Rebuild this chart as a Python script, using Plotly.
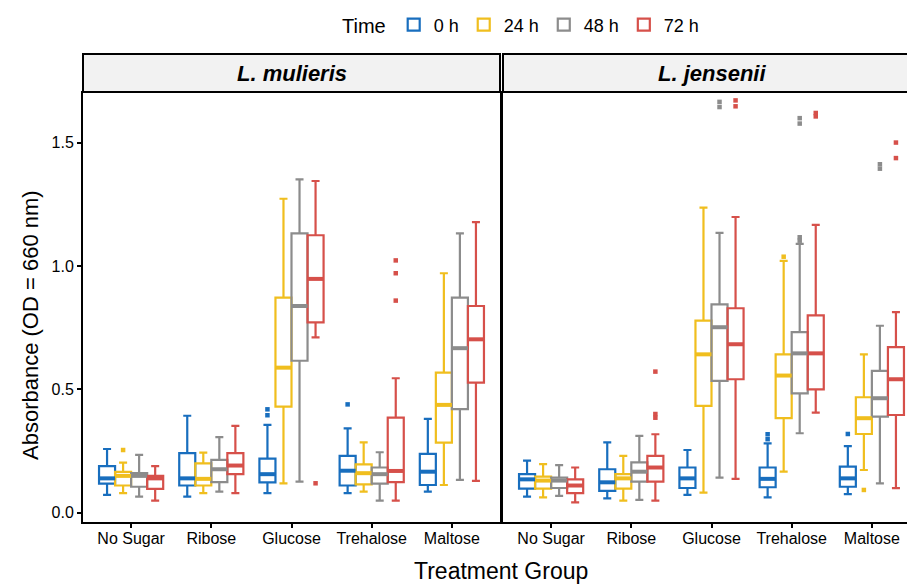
import plotly.graph_objects as go

# ---------------- data ----------------
categories = ["No Sugar", "Ribose", "Glucose", "Trehalose", "Maltose"]
times = ["0 h", "24 h", "48 h", "72 h"]
panels = ["L. mulieris", "L. jensenii"]

# L. mulieris : one row per time (0, 24, 48, 72 h), one value per category
mul_lo = [[0.072, 0.065, 0.079, 0.079, 0.085],
          [0.079, 0.079, 0.119, 0.085, 0.112],
          [0.065, 0.085, 0.126, 0.049, 0.133],
          [0.049, 0.079, 0.711, 0.049, 0.129]]
mul_q1 = [[0.118, 0.110, 0.123, 0.110, 0.112],
          [0.110, 0.110, 0.430, 0.115, 0.284],
          [0.105, 0.124, 0.616, 0.118, 0.420],
          [0.096, 0.156, 0.772, 0.124, 0.527]]
mul_med = [[0.139, 0.139, 0.156, 0.170, 0.166],
           [0.149, 0.137, 0.588, 0.160, 0.437],
           [0.149, 0.176, 0.838, 0.156, 0.667],
           [0.139, 0.191, 0.948, 0.169, 0.703]]
mul_q3 = [[0.189, 0.241, 0.219, 0.230, 0.238],
          [0.165, 0.200, 0.872, 0.196, 0.568],
          [0.160, 0.214, 1.133, 0.183, 0.872],
          [0.149, 0.241, 1.125, 0.385, 0.838]]
mul_hi = [[0.258, 0.393, 0.356, 0.342, 0.380],
          [0.203, 0.243, 1.273, 0.285, 0.971],
          [0.234, 0.306, 1.352, 0.245, 1.133],
          [0.189, 0.352, 1.345, 0.545, 1.178]]
mul_out_cat = ["No Sugar", "Glucose", "Glucose", "Glucose", "Trehalose",
               "Trehalose", "Trehalose", "Trehalose"]
mul_out_time = ["24 h", "0 h", "0 h", "72 h", "0 h", "72 h", "72 h", "72 h"]
mul_out_val = [0.254, 0.419, 0.395, 0.119, 0.439, 1.023, 0.971, 0.860]

# L. jensenii
jen_lo = [[0.065, 0.058, 0.072, 0.062, 0.075],
          [0.062, 0.049, 0.081, 0.166, 0.173],
          [0.068, 0.052, 0.142, 0.322, 0.119],
          [0.042, 0.049, 0.137, 0.406, 0.099]]
jen_q1 = [[0.097, 0.088, 0.100, 0.103, 0.105],
          [0.097, 0.097, 0.433, 0.383, 0.319],
          [0.100, 0.126, 0.534, 0.484, 0.389],
          [0.079, 0.126, 0.541, 0.500, 0.396]]
jen_med = [[0.135, 0.123, 0.139, 0.137, 0.139],
           [0.130, 0.139, 0.642, 0.556, 0.383],
           [0.130, 0.166, 0.752, 0.646, 0.464],
           [0.110, 0.183, 0.683, 0.646, 0.541]]
jen_q3 = [[0.156, 0.176, 0.183, 0.183, 0.187],
          [0.146, 0.156, 0.779, 0.642, 0.468],
          [0.142, 0.204, 0.845, 0.732, 0.575],
          [0.135, 0.230, 0.829, 0.800, 0.671]]
jen_hi = [[0.211, 0.285, 0.254, 0.281, 0.270],
          [0.197, 0.230, 1.237, 1.021, 0.642],
          [0.193, 0.311, 1.135, 1.090, 0.758],
          [0.183, 0.318, 1.199, 1.167, 0.813]]
jen_out_cat = ["Ribose", "Ribose", "Ribose",
               "Glucose", "Glucose", "Glucose", "Glucose",
               "Trehalose", "Trehalose", "Trehalose", "Trehalose", "Trehalose",
               "Trehalose", "Trehalose", "Trehalose", "Trehalose",
               "Maltose", "Maltose", "Maltose", "Maltose", "Maltose", "Maltose"]
jen_out_time = ["72 h", "72 h", "72 h",
                "48 h", "48 h", "72 h", "72 h",
                "0 h", "0 h", "24 h", "48 h", "48 h", "48 h", "48 h", "72 h", "72 h",
                "0 h", "24 h", "48 h", "48 h", "72 h", "72 h"]
jen_out_val = [0.572, 0.400, 0.385,
               1.666, 1.645, 1.672, 1.648,
               0.318, 0.298, 1.038, 1.117, 1.103, 1.600, 1.578, 1.621, 1.607,
               0.319, 0.092, 1.413, 1.395, 1.501, 1.438]

# ---------------- style ----------------
colors = ["#186EBE", "#F0BE1E", "#8C8C8C", "#D6504A"]
dodge = [-0.3, -0.1, 0.1, 0.3]
box_w = 0.2
FONT = "Liberation Sans, Arial, sans-serif"

W, H = 907, 584
P_LEFT, P_TOP, P_BOTTOM = 83, 93, 522            # panel edges in page pixels
ML, MR, MT, MB = P_LEFT, 0, P_TOP, H - P_BOTTOM
PW, PH = W - ML - MR, H - MT - MB


def px_x(px):
    return (px - ML) / PW


def px_y(py):
    return (H - MB - py) / PH


px_per_unit = (500 - 83) / 5.2
left_dom = [0.0, px_x(500)]
right_dom = [px_x(503), 1.0]
right_range = [0.4, 0.4 + (W - 503) / px_per_unit]

fig = go.Figure()

panel_data = [
    (mul_lo, mul_q1, mul_med, mul_q3, mul_hi, mul_out_cat, mul_out_time, mul_out_val, "x", "y"),
    (jen_lo, jen_q1, jen_med, jen_q3, jen_hi, jen_out_cat, jen_out_time, jen_out_val, "x2", "y2"),
]

for pi, (lo, q1, med, q3, hi, oc, ot, ov, xa, ya) in enumerate(panel_data):
    for ti, t in enumerate(times):
        pos = [ci + 1 + dodge[ti] for ci in range(len(categories))]
        fig.add_trace(go.Box(
            x=pos, q1=q1[ti], median=med[ti], q3=q3[ti],
            lowerfence=lo[ti], upperfence=hi[ti],
            width=box_w, boxpoints=False,
            line=dict(color=colors[ti], width=2.2),
            fillcolor="rgba(255,255,255,0)",
            name=t, legendgroup=t, showlegend=(pi == 0),
            xaxis=xa, yaxis=ya, hoverinfo="skip",
        ))
        # thicker median bar (ggplot style)
        mx, my = [], []
        for ci in range(len(categories)):
            mx += [pos[ci] - box_w / 2, pos[ci] + box_w / 2, None]
            my += [med[ti][ci], med[ti][ci], None]
        fig.add_trace(go.Scatter(
            x=mx, y=my, mode="lines",
            line=dict(color=colors[ti], width=4),
            showlegend=False, legendgroup=t, xaxis=xa, yaxis=ya, hoverinfo="skip",
        ))
        # outliers
        ox = [categories.index(c) + 1 + dodge[ti] for c, tt in zip(oc, ot) if tt == t]
        oy = [v for v, tt in zip(ov, ot) if tt == t]
        if ox:
            fig.add_trace(go.Scatter(
                x=ox, y=oy, mode="markers",
                marker=dict(symbol="square", size=4.5, color=colors[ti]),
                showlegend=False, legendgroup=t, xaxis=xa, yaxis=ya, hoverinfo="skip",
            ))

axis_common = dict(
    showgrid=False, zeroline=False, showline=True, linecolor="black", linewidth=2,
    ticks="outside", ticklen=4, tickwidth=1.5, tickcolor="black",
    tickfont=dict(family=FONT, size=16, color="black"),
)
yr = [-0.038, 1.702]

fig.update_layout(
    width=W, height=H,
    margin=dict(l=ML, r=MR, t=MT, b=MB, pad=0),
    paper_bgcolor="white", plot_bgcolor="white",
    boxmode="overlay",
    font=dict(family=FONT, color="black"),
    xaxis=dict(domain=left_dom, range=[0.4, 5.6], tickvals=[1, 2, 3, 4, 5],
               ticktext=categories, mirror=True, anchor="y",
               ticklabelstandoff=-3, **axis_common),
    yaxis=dict(domain=[0, 1], range=yr, tickvals=[0, 0.5, 1.0, 1.5],
               ticktext=["0.0", "0.5", "1.0", "1.5"], mirror=True, anchor="x",
               **axis_common),
    xaxis2=dict(domain=right_dom, range=right_range, tickvals=[1, 2, 3, 4, 5],
                ticktext=categories, mirror=True, anchor="y2",
                ticklabelstandoff=-3, **axis_common),
    yaxis2=dict(domain=[0, 1], range=yr, anchor="x2", matches="y",
                showgrid=False, zeroline=False, showline=True, linecolor="black",
                linewidth=2, ticks="", showticklabels=False, mirror=False),
    legend=dict(
        orientation="h", x=px_x(522), xanchor="center", y=px_y(25), yanchor="middle",
        title=dict(text="Time", font=dict(family=FONT, size=20, color="black")),
        font=dict(family=FONT, size=18, color="black"),
        bgcolor="rgba(0,0,0,0)", itemwidth=30,
    ),
)

# facet strips
strip_y0, strip_y1 = px_y(92), px_y(54)
for (x0, x1), label in zip([left_dom, [right_dom[0], 1.05]], panels):
    fig.add_shape(type="rect", xref="paper", yref="paper", x0=x0, x1=x1,
                  y0=strip_y0, y1=strip_y1, fillcolor="#F2F2F2",
                  line=dict(color="black", width=2), layer="above")
strip_centers = [px_x(291.5), px_x(712)]
for xc, label in zip(strip_centers, panels):
    fig.add_annotation(xref="paper", yref="paper", x=xc, y=px_y(73),
                       text="<b><i>%s</i></b>" % label, showarrow=False,
                       font=dict(family=FONT, size=22, color="black"),
                       xanchor="center", yanchor="middle")

# axis titles
fig.add_annotation(xref="paper", yref="paper", x=px_x(501), y=px_y(571),
                   text="Treatment Group", showarrow=False,
                   font=dict(family=FONT, size=23, color="black"),
                   xanchor="center", yanchor="middle")
fig.add_annotation(xref="paper", yref="paper", x=px_x(30), y=px_y(325),
                   text="Absorbance (OD = 660 nm)", showarrow=False, textangle=-90,
                   font=dict(family=FONT, size=22, color="black"),
                   xanchor="center", yanchor="middle")

# remove the default page margin so the 907x584 figure fills the window exactly
fig.write_html(
    "out.html",
    config={"displayModeBar": False},
    post_script="document.body.style.margin='0';document.body.style.overflow='hidden';",
)
